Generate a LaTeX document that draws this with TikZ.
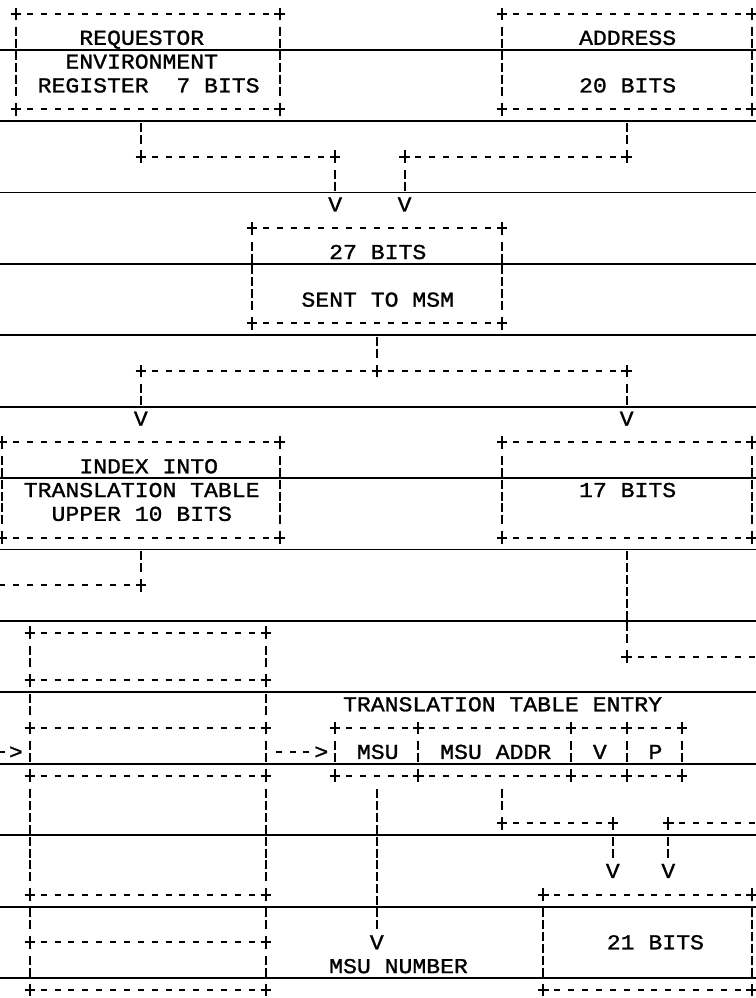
\documentclass[tikz,border=0pt]{standalone}
\usepackage{fontspec}
\newfontfamily\ttyfont{Liberation Mono}[FakeStretch=1.09, FakeBold=1.2]
\usetikzlibrary{calc}

\tikzset{
	% corner / junction mark of the character drawing
	plusmark/.pic={
		\draw (-2.6pt,0) -- (2.6pt,0) (0,-3.2pt) -- (0,3.2pt);
	}
}

\begin{document}
\begin{tikzpicture}[
	% one character cell is 6.94pt wide, one text row 11.9pt high
	x=6.94pt, y=-11.9pt,
	line width=1pt,
	txt/.style={font=\ttyfont\fontsize{10.6pt}{12pt}\selectfont, inner sep=0pt, anchor=west,
		text height=7pt, text depth=0pt},
	tip/.style={txt, anchor=center},
	% empty frame of a box, outline drawn afterwards
	cell/.style={inner sep=0pt, outer sep=0pt},
	% runs of '-' and of broken bars
	hdash/.style={dash pattern=on 3pt off 3.94pt, dash phase=1.5pt},
	hdashmid/.style={dash pattern=on 3pt off 3.94pt, dash phase=4.97pt},
	vdash/.style={dash pattern=on 4.5pt off 1.5pt on 4.5pt off 1.4pt,
		shorten <=6.65pt, shorten >=6.65pt},
	rule/.style={line width=0.9pt}
	]
	\useasboundingbox (-0.144,-0.588) rectangle (54.25,41.34);
	
	% ruled lines of the sheet
	\foreach \r in {1.5,4.5,...,40.5}
		\draw[rule] (-1,\r) -- (56,\r);
	
	% 1. Requestor and address
	\node[cell, minimum width=19*6.94pt, minimum height=4*11.9pt] (req) at (10.5,2) {};
	\node[txt] (req1) at (5.5,1) {REQUESTOR};
	\node[txt] (req2) at (4.5,2) {ENVIRONMENT};
	\node[txt] (req3) at (2.5,3) {REGISTER\ \ 7 BITS};
	
	\node[cell, minimum width=18*6.94pt, minimum height=4*11.9pt] (addr) at (45,2) {};
	\node[txt] (addr1) at (41.5,1) {ADDRESS};
	\node[txt] (addr2) at (41.5,3) {20 BITS};
	
	% 2. Merged request
	\node[cell, minimum width=18*6.94pt, minimum height=4*11.9pt] (sent) at (27,11) {};
	\node[txt] (sent1) at (23.5,10) {27 BITS};
	\node[txt] (sent2) at (21.5,12) {SENT TO MSM};
	
	% 3. Split of the address
	\node[cell, minimum width=20*6.94pt, minimum height=4*11.9pt] (index) at (10,20) {};
	\node[txt] (index1) at (5.5,19) {INDEX INTO};
	\node[txt] (index2) at (1.5,20) {TRANSLATION TABLE};
	\node[txt] (index3) at (3.5,21) {UPPER 10 BITS};
	
	\node[cell, minimum width=18*6.94pt, minimum height=4*11.9pt] (lowbits) at (45,20) {};
	\node[txt] (low1) at (41.5,20) {17 BITS};
	
	% 4. Translation table and its entry
	\foreach \top/\bot [count=\i] in {26/28, 28/30, 30/32, 32/37, 37/39, 39/41}
		\node[cell, minimum width=17*6.94pt, minimum height={(\bot-\top)*11.9pt}]
			(tt\i) at (10.5,{(\top+\bot)/2}) {};
	
	\node[txt] (entry) at (24.5,29) {TRANSLATION TABLE ENTRY};
	\node[cell, minimum width=6*6.94pt, minimum height=2*11.9pt] (msu) at (27,31) {};
	\node[cell, minimum width=11*6.94pt, minimum height=2*11.9pt] (msuaddr) at (35.5,31) {};
	\node[cell, minimum width=4*6.94pt, minimum height=2*11.9pt] (vbit) at (43,31) {};
	\node[cell, minimum width=4*6.94pt, minimum height=2*11.9pt] (pbit) at (47,31) {};
	\node[txt] (msu1) at (25.5,31) {MSU};
	\node[txt] (msuaddr1) at (31.5,31) {MSU ADDR};
	\node[txt] (vbit1) at (42.5,31) {V};
	\node[txt] (pbit1) at (46.5,31) {P};
	
	% 5. Results
	\node[cell, minimum width=15*6.94pt, minimum height=4*11.9pt] (num) at (46.5,39) {};
	\node[txt] (num1) at (43.5,39) {21 BITS};
	\node[txt] (msunum) at (23.5,40) {MSU NUMBER};
	
	% outlines of all boxes
	\foreach \b in {req, addr, sent, index, lowbits, tt1, tt2, tt3, tt4, tt5, tt6,
		msu, msuaddr, vbit, pbit, num} {
		\draw[hdash] (\b.north west) -- (\b.north east);
		\draw[hdash] (\b.south west) -- (\b.south east);
		\draw[vdash] (\b.north west) -- (\b.south west);
		\draw[vdash] (\b.north east) -- (\b.south east);
		\foreach \c in {north west, north east, south west, south east}
			\pic at (\b.\c) {plusmark};
	}
	
	% 6. Arrow heads, junctions and free ends
	\node[tip] (v1) at (24,8) {V};
	\node[tip] (v2) at (29,8) {V};
	\node[tip] (v3) at (10,17) {V};
	\node[tip] (v4) at (45,17) {V};
	\node[tip] (v5) at (27,39) {V};
	\node[tip] (v6) at (44,36) {V};
	\node[tip] (v7) at (48,36) {V};
	\node[tip] (gt1) at (1,31) {>};
	\node[tip] (gt2) at (23,31) {>};
	
	\coordinate (j1) at (10,6);
	\coordinate (j2) at (24,6);
	\coordinate (j3) at (45,6);
	\coordinate (j4) at (29,6);
	\coordinate (j5) at (27,15);
	\coordinate (j6) at (10,15);
	\coordinate (j7) at (45,15);
	\coordinate (j8) at (10,24);
	\coordinate (j9) at (45,27);
	\coordinate (j10) at (36,34);
	\coordinate (j11) at (44,34);
	\coordinate (j12) at (48,34);
	\coordinate (offl1) at (-0.5,24);
	\coordinate (offl2) at (-0.5,31);
	\coordinate (offr1) at (55,27);
	\coordinate (offr2) at (55,34);
	
	% 7. Connectors
	\draw[vdash] (j1 |- req.south) -- (j1);
	\draw[hdash] (j1) -- (j2);
	\draw[vdash] (j2) -- (v1.center);
	\draw[vdash] (j3 |- addr.south) -- (j3);
	\draw[hdash] (j3) -- (j4);
	\draw[vdash] (j4) -- (v2.center);
	
	\draw[vdash] (sent.south) -- (j5);
	\draw[hdash] (j5) -- (j6);
	\draw[hdash] (j5) -- (j7);
	\draw[vdash] (j6) -- (v3.center);
	\draw[vdash] (j7) -- (v4.center);
	
	\draw[vdash] (index.south) -- (j8);
	\draw[hdash] (j8) -- (offl1);
	\draw[hdashmid] (offl2) -- (gt1.west);
	\draw[hdashmid, shorten >=3.47pt] (gt2.west) -- (tt3.east);
	
	\draw[vdash] (lowbits.south) -- (j9);
	\draw[hdash] (j9) -- (offr1);
	
	\draw[vdash] (msu.south) -- (v5.center);
	\draw[vdash] (j10 |- msuaddr.south) -- (j10);
	\draw[hdash] (j10) -- (j11);
	\draw[vdash] (j11) -- (v6.center);
	\draw[hdash] (j12) -- (offr2);
	\draw[vdash] (j12) -- (v7.center);
	
	\foreach \j in {j1, j2, j3, j4, j5, j6, j7, j8, j9, j10, j11, j12}
		\pic at (\j) {plusmark};
	
\end{tikzpicture}
\end{document}
